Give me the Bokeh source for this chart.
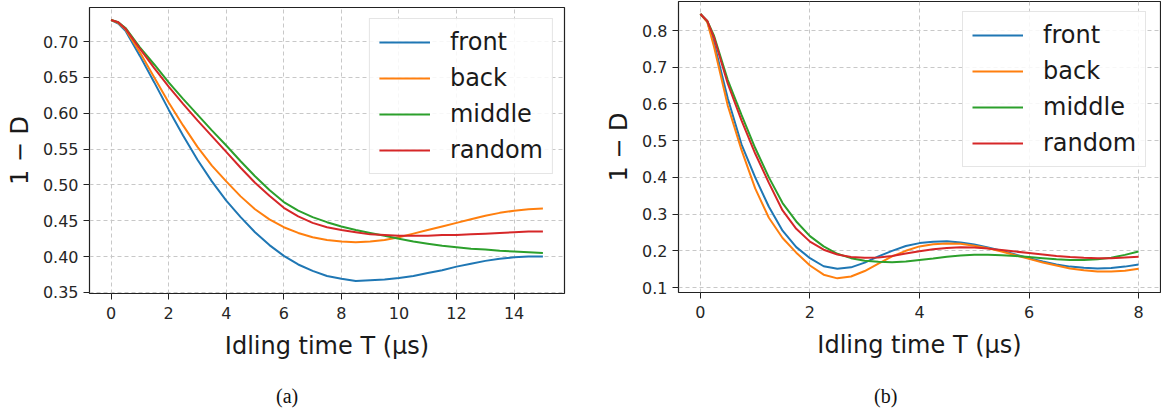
from bokeh.plotting import figure
from bokeh.models import Range1d, FixedTicker, PrintfTickFormatter, Legend, LegendItem, Div
from bokeh.layouts import row, column
from bokeh.embed import file_html
from bokeh.resources import INLINE

# ---------------- data: panel (a) ----------------
T_a = [0, 0.25, 0.5, 1, 1.5, 2, 2.5, 3, 3.5, 4, 4.5, 5, 5.5, 6, 6.5, 7, 7.5, 8, 8.5, 9, 9.5,
       10, 10.5, 11, 11.5, 12, 12.5, 13, 13.5, 14, 14.5, 15]
front_a = [0.730, 0.725, 0.715, 0.680, 0.643, 0.605, 0.569, 0.535, 0.505, 0.478, 0.455, 0.434,
           0.416, 0.401, 0.389, 0.380, 0.373, 0.369, 0.366, 0.367, 0.368, 0.370, 0.373,
           0.377, 0.381, 0.386, 0.390, 0.394, 0.397, 0.399, 0.400, 0.400]
back_a = [0.730, 0.726, 0.717, 0.685, 0.650, 0.615, 0.583, 0.553, 0.527, 0.505, 0.484, 0.466,
          0.452, 0.441, 0.433, 0.427, 0.423, 0.421, 0.420, 0.421, 0.423, 0.427, 0.432,
          0.437, 0.442, 0.447, 0.452, 0.457, 0.461, 0.464, 0.466, 0.467]
middle_a = [0.730, 0.727, 0.719, 0.692, 0.668, 0.643, 0.620, 0.598, 0.576, 0.555, 0.533, 0.512,
            0.493, 0.476, 0.464, 0.455, 0.448, 0.442, 0.437, 0.433, 0.429, 0.425, 0.421,
            0.418, 0.415, 0.413, 0.411, 0.410, 0.408, 0.407, 0.406, 0.405]
random_a = [0.730, 0.727, 0.718, 0.690, 0.663, 0.637, 0.613, 0.590, 0.568, 0.546, 0.524, 0.503,
            0.485, 0.468, 0.456, 0.447, 0.441, 0.437, 0.434, 0.431, 0.430, 0.429, 0.429,
            0.429, 0.430, 0.430, 0.431, 0.432, 0.433, 0.434, 0.435, 0.435]

# ---------------- data: panel (b) ----------------
T_b = [0, 0.125, 0.25, 0.5, 0.75, 1.0, 1.25, 1.5, 1.75, 2.0, 2.25, 2.5, 2.75, 3.0, 3.25,
       3.5, 3.75, 4.0, 4.25, 4.5, 4.75, 5.0, 5.25, 5.5, 5.75, 6.0, 6.25, 6.5, 6.75, 7.0,
       7.25, 7.5, 7.75, 8.0]
front_b = [0.845, 0.825, 0.765, 0.615, 0.490, 0.400, 0.320, 0.255, 0.210, 0.180, 0.158,
           0.151, 0.155, 0.168, 0.185, 0.200, 0.213, 0.221, 0.225, 0.226, 0.223, 0.217,
           0.209, 0.200, 0.190, 0.180, 0.171, 0.163, 0.157, 0.154, 0.152, 0.153, 0.157, 0.163]
back_b = [0.845, 0.823, 0.755, 0.595, 0.475, 0.370, 0.290, 0.235, 0.195, 0.160, 0.135,
          0.125, 0.130, 0.145, 0.165, 0.185, 0.200, 0.212, 0.218, 0.220, 0.219, 0.214,
          0.207, 0.198, 0.188, 0.178, 0.168, 0.160, 0.152, 0.147, 0.144, 0.144, 0.146, 0.151]
middle_b = [0.845, 0.826, 0.785, 0.665, 0.570, 0.480, 0.400, 0.330, 0.280, 0.240, 0.212,
            0.192, 0.180, 0.173, 0.170, 0.169, 0.171, 0.175, 0.179, 0.184, 0.187, 0.189,
            0.189, 0.188, 0.186, 0.183, 0.180, 0.177, 0.175, 0.175, 0.177, 0.181, 0.189, 0.198]
random_b = [0.845, 0.826, 0.780, 0.655, 0.555, 0.465, 0.385, 0.310, 0.260, 0.225, 0.203,
            0.190, 0.183, 0.181, 0.182, 0.186, 0.193, 0.199, 0.204, 0.208, 0.210, 0.209,
            0.206, 0.202, 0.198, 0.194, 0.190, 0.186, 0.183, 0.181, 0.180, 0.180, 0.182, 0.184]

series_names = ["front", "back", "middle", "random"]
colors = ["#1f77b4", "#ff7f0e", "#2ca02c", "#d62728"]

xticks_a = [0, 2, 4, 6, 8, 10, 12, 14]
yticks_a = [0.35, 0.40, 0.45, 0.50, 0.55, 0.60, 0.65, 0.70]
xticks_b = [0, 2, 4, 6, 8]
yticks_b = [0.1, 0.2, 0.3, 0.4, 0.5, 0.6, 0.7, 0.8]

xlabel = "Idling time T (\u03bcs)"
ylabel = "1 \u2212 D"
captions = ["(a)", "(b)"]

PLOT_H = 375


def panel(x, ys, xr, yr, xticks, yticks, yfmt, width, mbl, mbr, mbt, mbb, leg_loc, leg_margin):
    p = figure(width=width, height=PLOT_H, x_range=Range1d(*xr), y_range=Range1d(*yr),
               output_backend="svg", toolbar_location=None,
               min_border_left=mbl, min_border_right=mbr,
               min_border_top=mbt, min_border_bottom=mbb)
    p.background_fill_color = "white"
    p.border_fill_color = "white"
    p.outline_line_color = "#222222"
    p.outline_line_width = 1.2

    rs = []
    for y, c in zip(ys, colors):
        rs.append(p.line(x, y, line_color=c, line_width=2))

    p.xaxis.ticker = FixedTicker(ticks=xticks)
    p.yaxis.ticker = FixedTicker(ticks=yticks)
    p.yaxis.formatter = PrintfTickFormatter(format=yfmt)
    for ax in (p.xaxis, p.yaxis):
        ax.axis_line_color = None
        ax.minor_tick_line_color = None
        ax.major_tick_line_color = "#222222"
        ax.major_tick_out = 6
        ax.major_tick_in = 0
        ax.major_label_text_font = "DejaVu Sans"
        ax.major_label_text_font_size = "16px"
        ax.major_label_text_color = "#262626"
        ax.axis_label_text_font = "DejaVu Sans"
        ax.axis_label_text_font_size = "24px"
        ax.axis_label_text_font_style = "normal"
        ax.axis_label_text_color = "#1a1a1a"
    p.xaxis.major_label_standoff = 7
    p.xaxis.axis_label_standoff = 10
    p.yaxis.axis_label_standoff = 6
    p.xaxis.axis_label = xlabel
    p.yaxis.axis_label = ylabel

    p.grid.grid_line_color = "#c8c8c8"
    p.grid.grid_line_dash = "4 3"
    p.grid.grid_line_width = 1

    legend = Legend(items=[LegendItem(label=n, renderers=[r]) for n, r in zip(series_names, rs)],
                    location=leg_loc, margin=leg_margin, padding=9, spacing=8,
                    glyph_width=51, glyph_height=28, label_standoff=20, label_height=28,
                    label_text_font="DejaVu Sans", label_text_font_size="24px",
                    label_text_color="#1a1a1a", border_line_color="#cccccc",
                    border_line_width=1, background_fill_alpha=0.85)
    p.add_layout(legend)
    return p


def caption_div(text, width, left):
    html = ('<div style="margin:0; padding:9px 0 0 %dpx; font-family:\'Liberation Serif\', serif; '
            'font-size:20px; line-height:24px; color:#111111; white-space:nowrap">%s</div>' % (left, text))
    return Div(text=html, width=width, height=414 - PLOT_H, margin=0)


pa = panel(T_a, [front_a, back_a, middle_a, random_a], (-0.75, 15.75), (0.3485, 0.7475),
           xticks_a, yticks_a, "%.2f", 590, 89, 26, 7, 82, "top_right", 11)
pb = panel(T_b, [front_b, back_b, middle_b, random_b], (-0.4, 8.4), (0.0865, 0.879),
           xticks_b, yticks_b, "%.1f", 571, 88, 1, 1, 83, (284, 125), 0)

ca = caption_div(captions[0], 590, 276)
cb = caption_div(captions[1], 571, 284)

layout = column(row(column(pa), column(pb)), row(ca, cb))
open("out.html", "w").write(file_html(layout, INLINE))
